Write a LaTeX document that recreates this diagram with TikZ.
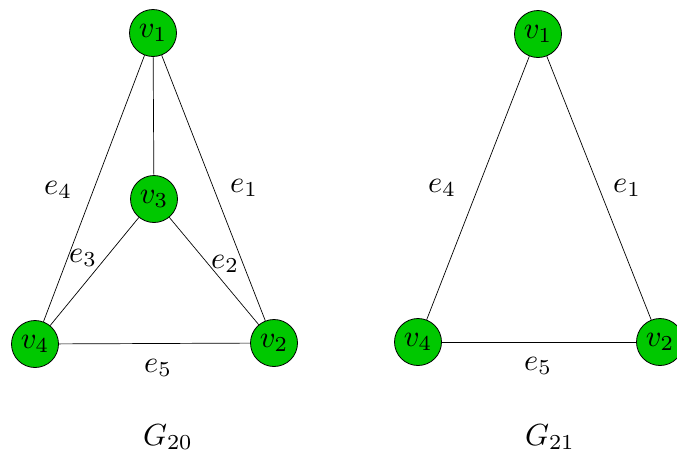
\documentclass[tikz,border=0pt]{standalone}
\usepackage{graphicx}
\definecolor{vgreen}{RGB}{0,200,0}
\newcommand{\grlbl}[1]{\scalebox{3.05}{$#1$}}
\tikzset{
  vert/.style={circle,draw=black,line width=0.8pt,fill=vgreen,minimum size=47pt,inner sep=0pt},
  lbl/.style={inner sep=0pt},
  edge/.style={line width=0.7pt}
}
\begin{document}
\begin{tikzpicture}[x=1pt,y=-1pt]
\useasboundingbox (0,0) rectangle (677,453);
\clip (0,0) rectangle (677,453);
% G20
\node[vert] (a1) at (153,33) {\grlbl{v_1}};
\node[vert] (a3) at (154,199) {\grlbl{v_3}};
\node[vert] (a4) at (35,344) {\grlbl{v_4}};
\node[vert] (a2) at (274,343) {\grlbl{v_2}};
\draw[edge] (a1) -- (a3);
\draw[edge] (a1) -- (a4);
\draw[edge] (a1) -- (a2);
\draw[edge] (a3) -- (a4);
\draw[edge] (a3) -- (a2);
\draw[edge] (a4) -- (a2);
\node[lbl] (ae1) at (244,188) {\grlbl{e_1}};
\node[lbl] (ae2) at (225,264) {\grlbl{e_2}};
\node[lbl] (ae3) at (83,258) {\grlbl{e_3}};
\node[lbl] (ae4) at (58,190) {\grlbl{e_4}};
\node[lbl] (ae5) at (158,368) {\grlbl{e_5}};
\node[lbl] (ag) at (168,437) {\grlbl{G_{20}}};
% G21
\node[vert] (b1) at (538,34) {\grlbl{v_1}};
\node[vert] (b4) at (418,342) {\grlbl{v_4}};
\node[vert] (b2) at (660,342) {\grlbl{v_2}};
\draw[edge] (b1) -- (b4);
\draw[edge] (b1) -- (b2);
\draw[edge] (b4) -- (b2);
\node[lbl] (be1) at (627,188) {\grlbl{e_1}};
\node[lbl] (be4) at (442,188) {\grlbl{e_4}};
\node[lbl] (be5) at (538,366) {\grlbl{e_5}};
\node[lbl] (bg) at (550,437) {\grlbl{G_{21}}};
\end{tikzpicture}
\end{document}
